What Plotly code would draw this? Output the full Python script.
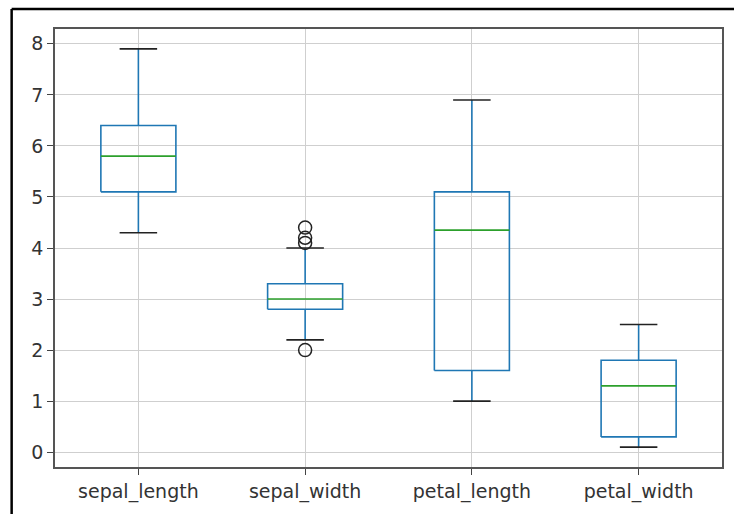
import plotly.graph_objects as go

categories = ["sepal_length", "sepal_width", "petal_length", "petal_width"]
lower_whisker = [4.3, 2.2, 1.0, 0.1]
q1 = [5.1, 2.8, 1.6, 0.3]
median = [5.8, 3.0, 4.35, 1.3]
q3 = [6.4, 3.3, 5.1, 1.8]
upper_whisker = [7.9, 4.0, 6.9, 2.5]
outliers = [[], [4.4, 4.1, 4.2, 2.0], [], []]
y_ticks = [0, 1, 2, 3, 4, 5, 6, 7, 8]

BLUE = "#1f77b4"
GREEN = "#2ca02c"
BLACK = "#000000"
box_w = 0.45
cap_w = box_w / 2
lw = 1.6

fig = go.Figure()
for i, name in enumerate(categories):
    p = i + 1
    # box
    fig.add_trace(go.Scatter(
        x=[p - box_w / 2, p + box_w / 2, p + box_w / 2, p - box_w / 2, p - box_w / 2],
        y=[q1[i], q1[i], q3[i], q3[i], q1[i]],
        mode="lines", line=dict(color=BLUE, width=lw), hoverinfo="skip"))
    # whiskers
    fig.add_trace(go.Scatter(
        x=[p, p, None, p, p],
        y=[q1[i], lower_whisker[i], None, q3[i], upper_whisker[i]],
        mode="lines", line=dict(color=BLUE, width=lw), hoverinfo="skip"))
    # caps
    fig.add_trace(go.Scatter(
        x=[p - cap_w / 2, p + cap_w / 2, None, p - cap_w / 2, p + cap_w / 2],
        y=[lower_whisker[i], lower_whisker[i], None, upper_whisker[i], upper_whisker[i]],
        mode="lines", line=dict(color="#222222", width=lw), hoverinfo="skip"))
    # median
    fig.add_trace(go.Scatter(
        x=[p - box_w / 2, p + box_w / 2],
        y=[median[i], median[i]],
        mode="lines", line=dict(color=GREEN, width=lw), hoverinfo="skip"))
    # fliers
    if outliers[i]:
        fig.add_trace(go.Scatter(
            x=[p] * len(outliers[i]), y=outliers[i], mode="markers",
            marker=dict(symbol="circle-open", size=13, color="#222222", line=dict(width=1.5)),
            hoverinfo="skip"))

axis_common = dict(
    showline=True, linecolor="#555555", linewidth=1.6, mirror=True,
    showgrid=True, gridcolor="#cfcfcf", gridwidth=1.3,
    ticks="outside", ticklen=6, tickwidth=1.4, tickcolor="#444444",
    zeroline=False,
    tickfont=dict(family="DejaVu Sans", size=19, color="#333333"),
)

fig.update_xaxes(range=[0.5, 4.5], tickmode="array",
                 tickvals=list(range(1, len(categories) + 1)), ticktext=categories,
                 **axis_common)
fig.update_yaxes(range=[-0.29, 8.29], tickmode="array", tickvals=y_ticks,
                 ticktext=[str(t) for t in y_ticks], **axis_common)

# screenshot frame lines (left and top)
fig.add_shape(type="line", xref="paper", yref="paper",
              x0=-0.065, x1=-0.065, y0=-0.2, y1=1.0457,
              line=dict(color="black", width=2.5))
fig.add_shape(type="line", xref="paper", yref="paper",
              x0=-0.065, x1=1.1, y0=1.0457, y1=1.0457,
              line=dict(color="black", width=2.5))

fig.update_layout(
    width=734, height=514,
    margin=dict(l=55, r=10, t=29, b=47),
    paper_bgcolor="white", plot_bgcolor="white",
    showlegend=False,
)

fig.write_html("out.html")
